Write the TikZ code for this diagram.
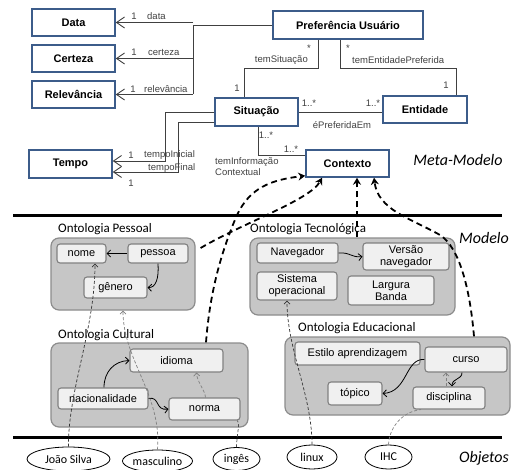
\documentclass[tikz,border=0pt]{standalone}
\usepackage{fontspec}
\setmainfont{Liberation Sans}
\newfontfamily\calib{Carlito}
\usetikzlibrary{arrows.meta,shapes.geometric}
\definecolor{umlblue}{RGB}{60,92,138}
\definecolor{grpfill}{RGB}{198,198,198}
\definecolor{grpdraw}{RGB}{140,140,140}
\definecolor{infill}{RGB}{240,240,240}
\definecolor{indraw}{RGB}{128,128,128}
\definecolor{conncol}{RGB}{64,64,64}
\begin{document}
\begin{tikzpicture}[x=1pt,y=-1pt,
  uml/.style={draw=umlblue,line width=1.5pt,fill=white,font=\fontsize{11}{13}\selectfont\bfseries,inner sep=0pt},
  grp/.style={draw=grpdraw,fill=grpfill,line width=1.2pt,rounded corners=8pt,inner sep=0pt},
  inn/.style={draw=indraw,fill=infill,line width=1.1pt,rounded corners=3pt,inner sep=0pt,font=\fontsize{11}{12}\selectfont,align=center},
  obj/.style={ellipse,draw=black,line width=0.8pt,fill=white,inner sep=0pt,font=\calib\fontsize{12}{14}\selectfont},
  conn/.style={draw=conncol,line width=0.9pt},
  uarr/.style={-{Straight Barb[length=8pt,width=11pt]}},
  lbl/.style={font=\fontsize{9.5}{10}\selectfont,text=conncol,inner sep=0pt},
  glbl/.style={font=\calib\fontsize{13}{15}\selectfont,anchor=base west,inner sep=0pt},
  lvl/.style={font=\calib\itshape\fontsize{16}{18}\selectfont,inner sep=0pt},
  bigdash/.style={line width=1.8pt,dash pattern=on 6pt off 4pt,-{Stealth[length=7pt,width=8pt]}},
  thindash/.style={line width=0.7pt,dash pattern=on 3pt off 2pt,-{Straight Barb[length=3pt,width=6pt]}},
  thinline/.style={line width=0.7pt,dash pattern=on 3pt off 2pt},
  sarr/.style={line width=0.8pt,-{Straight Barb[length=3.5pt,width=7pt]}}
]
\useasboundingbox (0,0) rectangle (516,470);

% ---------- Meta-model ----------
\node[uml,minimum width=83,minimum height=27] (data) at (73.5,22.5) {Data};
\node[uml,minimum width=83,minimum height=27] (cert) at (73.5,58.5) {Certeza};
\node[uml,minimum width=83,minimum height=27] (relev) at (73.5,94.5) {Relevância};
\node[uml,minimum width=83,minimum height=28] (tempo) at (70.5,164) {Tempo};
\node[uml,minimum width=150,minimum height=28] (pref) at (348,25) {Preferência Usuário};
\node[uml,minimum width=83,minimum height=28] (sit) at (256.5,112) {Situação};
\node[uml,minimum width=84,minimum height=27] (ent) at (425,109.5) {Entidade};
\node[uml,minimum width=83,minimum height=27] (ctx) at (347.5,163.5) {Contexto};

\coordinate (jb) at (193,94.5);
\draw[conn] (pref.west) -| (jb);
\draw[conn,uarr] (data.east -| jb) -- (data.east);
\draw[conn,uarr] (cert.east -| jb) -- (cert.east);
\draw[conn,uarr] (relev.east -| jb) -- (relev.east);
\node[lbl] at (134,16) {1};
\node[lbl,anchor=west] at (147,16) {data};
\node[lbl] at (134,52) {1};
\node[lbl,anchor=west] at (148,52) {certeza};
\node[lbl] at (133,89) {1};
\node[lbl,anchor=west] at (144,89) {relevância};

\coordinate (ts1) at (318,68);
\coordinate (ts2) at (244,68);
\draw[conn] (pref.south -| ts1) -- (ts1) -- (ts2) -- (sit.north -| ts2);
\node[lbl] at (309,48) {*};
\node[lbl,anchor=east] at (308,60) {temSituação};
\node[lbl] at (237,88) {1};

\coordinate (te1) at (340,68);
\coordinate (te2) at (456,68);
\draw[conn] (pref.south -| te1) -- (te1) -- (te2) -- (ent.north -| te2);
\node[lbl] at (348,48) {*};
\node[lbl,anchor=west] at (352,60) {temEntidadePreferida};
\node[lbl] at (446,85) {1};

\draw[conn] (sit.east) -- (sit.east -| ent.west);
\node[lbl] at (309,103) {1..*};
\node[lbl] at (373,103) {1..*};
\node[lbl] at (342,125) {éPreferidaEm};

\coordinate (ti1) at (258,155);
\draw[conn] (sit.south -| ti1) -- (ti1) -- (ti1 -| ctx.west);
\node[lbl] at (266,135) {1..*};
\node[lbl] at (291,149) {1..*};
\node[lbl,anchor=north west,align=left,font=\fontsize{9.5}{11.5}\selectfont] at (215,157) {temInformação\\Contextual};

\coordinate (tp1) at (165,112);
\coordinate (tp2) at (165,161);
\draw[conn,uarr] (sit.west |- tp1) -- (tp1) -- (tp2) -- (tp2 -| tempo.east);
\coordinate (tf1) at (178,122);
\coordinate (tf2) at (178,172);
\draw[conn,uarr] (sit.west |- tf1) -- (tf1) -- (tf2) -- (tf2 -| tempo.east);
\node[lbl] at (131,155) {1};
\node[lbl,anchor=west] at (144,155) {tempoInicial};
\node[lbl,anchor=west] at (148,168) {tempoFinal};
\node[lbl] at (131,183) {1};

\node[lvl] at (458,160) {Meta-Modelo};

% ---------- separators ----------
\draw[line width=3pt] (13,216) -- (502,216);
\draw[line width=3pt] (13,437) -- (502,437);
\node[lvl] at (484,238) {Modelo};
\node[lvl] at (484,458) {Objetos};

% ---------- Model groups ----------
\node[grp,minimum width=144,minimum height=72] (gpess) at (123,274) {};
\node[grp,minimum width=197,minimum height=84] (gcult) at (149.5,385) {};
\node[grp,minimum width=205,minimum height=77] (gtec) at (352.5,276.5) {};
\node[grp,minimum width=225,minimum height=78] (gedu) at (397.5,376) {};
\node[glbl] at (58,233) {Ontologia Pessoal};
\node[glbl] at (58,338) {Ontologia Cultural};
\node[glbl] at (250,233) {Ontologia Tecnológica};
\node[glbl] at (298,331) {Ontologia Educacional};

\node[inn,minimum width=49,minimum height=19] (nome) at (81.5,253.5) {nome};
\node[inn,minimum width=60,minimum height=19] (pessoa) at (158,253.5) {pessoa};
\node[inn,minimum width=63,minimum height=21] (genero) at (115.5,287.5) {gênero};
\node[inn,minimum width=93,minimum height=23] (idioma) at (176.5,360.5) {idioma};
\node[inn,minimum width=90,minimum height=21] (nacio) at (103,398.5) {nacionalidade};
\node[inn,minimum width=71,minimum height=22] (norma) at (204.5,409) {norma};
\node[inn,minimum width=81,minimum height=20] (naveg) at (297.5,253) {Navegador};
\node[inn,minimum width=86,minimum height=27] (versao) at (406,256.5) {Versão\\navegador};
\node[inn,minimum width=80,minimum height=28] (sistema) at (297,286) {Sistema\\operacional};
\node[inn,minimum width=86,minimum height=29] (largura) at (391,290.5) {Largura\\Banda};
\node[inn,minimum width=125,minimum height=23] (estilo) at (357.5,353.5) {Estilo aprendizagem};
\node[inn,minimum width=82,minimum height=25] (curso) at (466,359.5) {curso};
\node[inn,minimum width=54,minimum height=23] (topico) at (355,393.5) {tópico};
\node[inn,minimum width=72,minimum height=22] (disc) at (449,398) {disciplina};

% inner relations
\draw[sarr] (pessoa.west) -- (nome.east);
\draw[sarr] (pessoa.south) .. controls (159,278) and (156,288) .. (genero.east);
\draw[sarr] ([xshift=1pt]nacio.north) .. controls (104,372) and (114,361) .. (idioma.west);
\draw[sarr] (nacio.east) .. controls (160,396) and (155,411) .. (norma.west);
\draw[sarr] (naveg.east) .. controls (350,252) and (352,258) .. (versao.west);
\draw[sarr] (curso.west) .. controls (405,358) and (408,392) .. (topico.east);
\draw[sarr] ([xshift=-4pt]curso.south) .. controls (462,380) and (452,378) .. ([xshift=3pt]disc.north);
\draw[thindash,draw=gray] ([xshift=-3pt]disc.north) -- ([xshift=-20pt]curso.south);
\draw[thindash,draw=gray] ([xshift=1pt]norma.north) .. controls (205,390) and (197,382) .. ([xshift=20pt]idioma.south);

% ---------- Objects ----------
\node[obj,minimum width=83,minimum height=24] (joao) at (68.5,459) {João Silva};
\node[obj,minimum width=60,minimum height=22] (masc) at (157.5,461) {masculino};
\node[obj,minimum width=47,minimum height=23] (ingles) at (236.5,459) {ingês};
\node[obj,minimum width=50,minimum height=24] (linux) at (312,457) {linux};
\node[obj,minimum width=47,minimum height=24] (ihc) at (388.5,457) {IHC};

\draw[thindash,draw=black!80] (joao.north) .. controls (68,390) and (95,330) .. ([xshift=13.5pt]nome.south);
\draw[thindash,draw=gray] (masc.north) .. controls (162,395) and (123,360) .. (gpess.south);
\draw[thinline,draw=black!70] (ingles.north) .. controls (237,432) and (240,425) .. ([xshift=-3pt]norma.south east);
\draw[thindash,draw=black!80] (linux.north) .. controls (312,395) and (287,350) .. ([xshift=-10pt]sistema.south);
\draw[thinline,draw=gray] (ihc.north) .. controls (389,430) and (400,412) .. ([xshift=-28pt]disc.south);

% ---------- Links to Contexto ----------
\draw[bigdash] ([shift={(5,-26)}]gpess.east) .. controls (245,222) and (310,200) .. ([xshift=-25.5pt]ctx.south);
\draw[bigdash] ([xshift=56.5pt]gcult.north) .. controls (210,290) and (222,250) .. (237,215) .. controls (250,188) and (270,180) .. ([yshift=2pt]ctx.south west);
\draw[bigdash] ([xshift=4.5pt]gtec.north) -- ([xshift=9.5pt]ctx.south);
\draw[bigdash] ([xshift=76.5pt]gedu.north) .. controls (470,290) and (460,248) .. (440,235) .. controls (410,218) and (378,210) .. ([xshift=26.5pt]ctx.south);
\end{tikzpicture}
\end{document}
